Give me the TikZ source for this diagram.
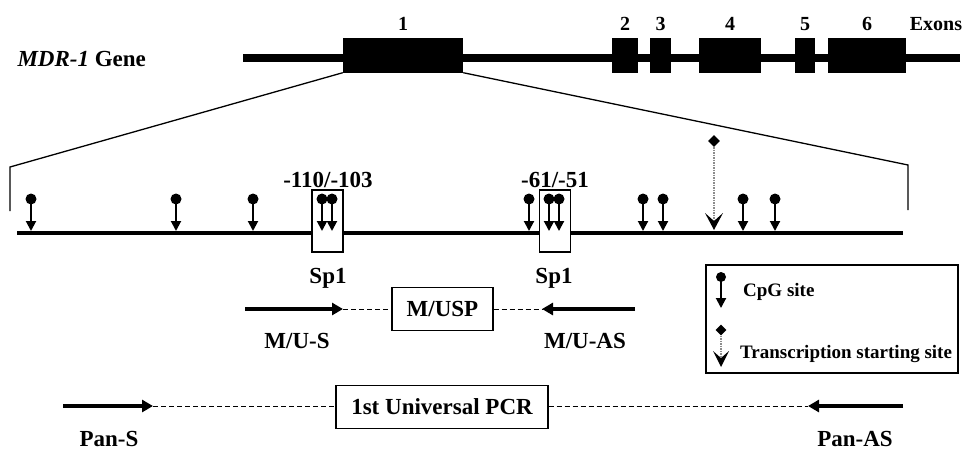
\documentclass[tikz,border=0pt]{standalone}
\usepackage{fontspec}
\setmainfont{Liberation Serif}
\usetikzlibrary{arrows.meta,shapes.geometric}

\begin{document}
\begin{tikzpicture}[x=1pt,y=-1pt,
    font=\fontsize{23}{25}\selectfont\bfseries,
    exon/.style={rectangle, fill=black, inner sep=0pt, minimum height=35pt},
    num/.style={anchor=base, font=\fontsize{20}{22}\selectfont\bfseries},
    site/.style={rectangle, draw, line width=1.2pt, fill=white, inner sep=0pt, minimum width=31pt, minimum height=62pt},
    pbox/.style={rectangle, draw, line width=1.2pt, inner sep=0pt, minimum height=43pt},
    dot/.style={circle, fill=black, inner sep=0pt, minimum size=11pt},
    tss/.style={diamond, fill=black, inner sep=0pt, minimum size=12pt},
    cpgarr/.style={-{Triangle[length=10pt,width=10pt]}, line width=2pt},
    tssline/.style={line width=1.3pt, black!45, dash pattern=on 1.5pt off 1pt},
    vhead/.style={fill=black},
    primer/.style={-{Triangle[length=11pt,width=12pt]}, line width=4.5pt},
    link/.style={line width=1pt, dash pattern=on 5pt off 3pt},
    lab/.style={anchor=base}
  ]
  \useasboundingbox (0,0) rectangle (973,450);

  \node[anchor=base west] (gene) at (14,66) {\textit{MDR-1} Gene};
  \draw[line width=8pt] (243,57.5) coordinate (g0) -- (960,57.5) coordinate (g1);
  \node[exon, minimum width=120pt] (e1) at (403,55) {};
  \node[exon, minimum width=26pt] (e2) at (625,55) {};
  \node[exon, minimum width=21pt] (e3) at (660.5,55) {};
  \node[exon, minimum width=62pt] (e4) at (730,55) {};
  \node[exon, minimum width=20pt] (e5) at (805,55) {};
  \node[exon, minimum width=78pt] (e6) at (867,55) {};
  \foreach \i in {1,...,6}
    \node[num] (n\i) at (e\i.center |- 0,30) {\i};
  \node[num] (exons) at (936,30) {Exons};

  \coordinate (zl) at (10,167);
  \coordinate (zlb) at (10,211);
  \coordinate (zr) at (908,165);
  \coordinate (zrb) at (908,210);
  \draw[line width=1.3pt] (e1.south west) -- (zl) -- (zlb);
  \draw[line width=1.3pt] (e1.south east) -- (zr) -- (zrb);

  \draw[line width=4.5pt] (17,233) coordinate (p0) -- (903,233) coordinate (p1);
  \node[site] (sp1a) at (327.5,221) {};
  \node[site] (sp1b) at (555,221) {};
  \node[lab] (r1) at (328,187) {-110/-103};
  \node[lab] (r2) at (555,187) {-61/-51};
  \node[lab] (s1) at (328,283) {Sp1};
  \node[lab] (s2) at (554,283) {Sp1};

  \foreach \x [count=\i] in {31,176,253,322,332,529,549,559,643,663,743,775} {
    \node[dot] (c\i) at (\x,199) {};
    \coordinate (t\i) at (\x,231);
    \draw[cpgarr] (c\i.center) -- (t\i);
  }
  \node[tss] (ts) at (714,141) {};
  \coordinate (tsb) at (714,221);
  \draw[tssline] (ts) -- (tsb);
  \fill[vhead] (tsb) -- ++(-9,-8) -- ++(9,17) -- ++(9,-17) -- cycle;

  \node[pbox, minimum width=101pt] (musp) at (442.5,309) {M/USP};
  \coordinate (ms0) at (245,309);
  \coordinate (ms1) at (343,309);
  \coordinate (mas0) at (635,309);
  \coordinate (mas1) at (542,309);
  \draw[primer] (ms0) -- (ms1);
  \draw[primer] (mas0) -- (mas1);
  \draw[link] (ms1) -- (musp.west);
  \draw[link] (musp.east) -- (mas1);
  \node[lab] (mus) at (297,348) {M/U-S};
  \node[lab] (muas) at (585,348) {M/U-AS};

  \node[pbox, minimum width=212pt] (upcr) at (442,407) {1st Universal PCR};
  \coordinate (ps0) at (63,406);
  \coordinate (ps1) at (153,406);
  \coordinate (pas0) at (903,406);
  \coordinate (pas1) at (808,406);
  \draw[primer] (ps0) -- (ps1);
  \draw[primer] (pas0) -- (pas1);
  \draw[link] (ps1) -- (ps1 -| upcr.west);
  \draw[link] (ps1 -| upcr.east) -- (pas1);
  \node[lab] (pans) at (109,446) {Pan-S};
  \node[lab] (panas) at (855,446) {Pan-AS};

  \node[rectangle, draw, line width=1.3pt, minimum width=252pt, minimum height=108pt] (legend) at (832,319) {};
  \begin{scope}[font=\fontsize{19}{21}\selectfont\bfseries]
    \node[dot, minimum size=10pt] (lc) at (721,277) {};
    \coordinate (lct) at (721,308);
    \draw[cpgarr] (lc.center) -- (lct);
    \node[anchor=base west, inner sep=0pt] (lcpg) at (743,296) {CpG site};
    \node[tss, minimum size=11pt] (lt) at (721,330) {};
    \coordinate (ltt) at (721,358);
    \draw[tssline] (lt) -- (ltt);
    \fill[vhead] (ltt) -- ++(-8,-7) -- ++(8,16) -- ++(8,-16) -- cycle;
    \node[anchor=base west, inner sep=0pt] (ltss) at (740,358) {Transcription starting site};
  \end{scope}
\end{tikzpicture}
\end{document}
